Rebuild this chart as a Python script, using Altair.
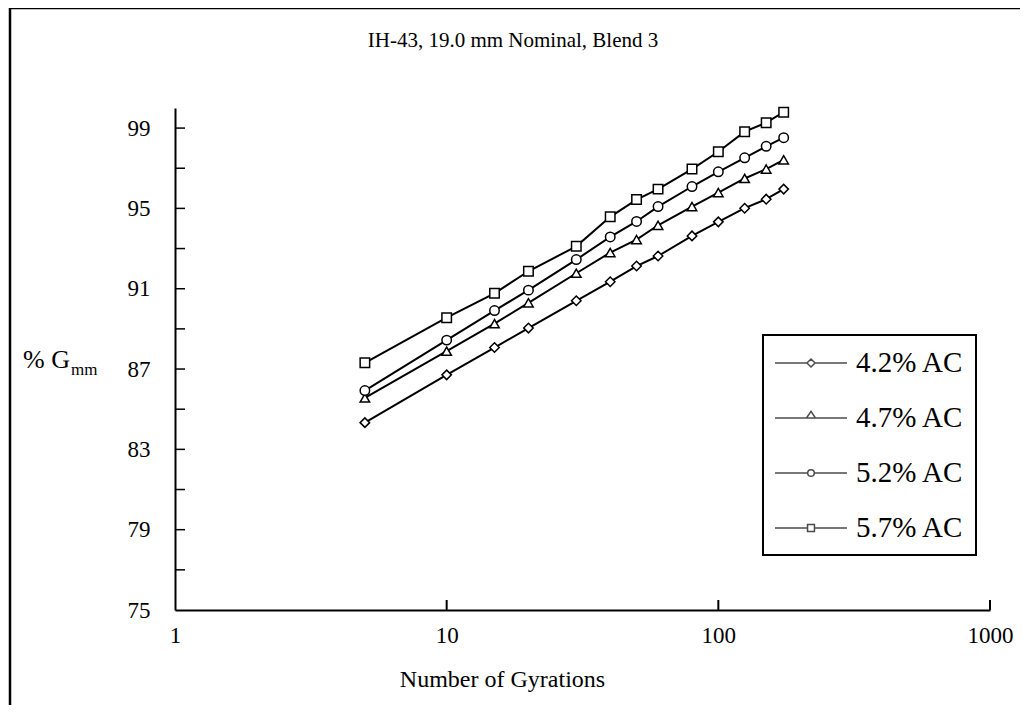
import altair as alt
import pandas as pd

gyrations = [5, 10, 15, 20, 30, 40, 50, 60, 80, 100, 125, 150, 174]
ac42 = [84.33, 86.71, 88.07, 89.04, 90.40, 91.35, 92.13, 92.63, 93.63, 94.33, 95.01, 95.46, 95.96]
ac47 = [85.56, 87.89, 89.26, 90.30, 91.77, 92.80, 93.45, 94.16, 95.09, 95.79, 96.49, 96.96, 97.42]
ac52 = [85.93, 88.44, 89.91, 90.93, 92.45, 93.58, 94.35, 95.09, 96.09, 96.82, 97.52, 98.09, 98.52]
ac57 = [87.31, 89.56, 90.77, 91.87, 93.11, 94.58, 95.44, 95.96, 96.96, 97.82, 98.82, 99.27, 99.79]
series_names = ["4.2% AC", "4.7% AC", "5.2% AC", "5.7% AC"]
series_values = [ac42, ac47, ac52, ac57]
shapes = ["diamond", "triangle-up", "circle", "square"]
x_tick_labels = [1, 10, 100, 1000]
x_tick_marks = [10, 100, 1000]
y_tick_labels = [75, 79, 83, 87, 91, 95, 99]
y_tick_marks = [77, 79, 81, 83, 85, 87, 89, 91, 93, 95, 97, 99]

# legend glyphs: a line with a small open marker in the middle (unit = 15 px)
legend_paths = [
    "M-2.4,0L-0.27,0M0.27,0L2.4,0M0,-0.27L0.27,0L0,0.27L-0.27,0Z",
    "M-2.4,0L2.4,0M-0.3,0L0,-0.45L0.3,0Z",
    "M-2.4,0L-0.22,0M0.22,0L2.4,0M0.22,0A0.22,0.22 0 1,1 -0.22,0A0.22,0.22 0 1,1 0.22,0Z",
    "M-2.4,0L-0.23,0M0.23,0L2.4,0M-0.23,-0.23L0.23,-0.23L0.23,0.23L-0.23,0.23Z",
]

rows = []
for name, vals in zip(series_names, series_values):
    for g, v in zip(gyrations, vals):
        rows.append({"g": g, "v": v, "series": name})
df = pd.DataFrame(rows)

W, H = 815, 502
FONT = "Liberation Serif, Times New Roman, DejaVu Serif, serif"
xscale = alt.Scale(type="log", domain=[1, 1000])
yscale = alt.Scale(domain=[75, 100], zero=False, nice=False)

x_axis = alt.Axis(values=x_tick_labels, format="d", ticks=False, tickSize=0,
                  grid=False, labelFont=FONT, labelFontSize=23, labelColor="black",
                  labelPadding=14, domainColor="black", domainWidth=2,
                  title="Number of Gyrations", titleFont=FONT, titleFontSize=24,
                  titleFontWeight="normal", titleColor="black", titleX=327,
                  titleY=76, titleBaseline="alphabetic", labelFlush=False)
y_axis = alt.Axis(values=y_tick_labels, ticks=False, tickSize=0, grid=False,
                  labelFont=FONT, labelFontSize=23, labelColor="black",
                  labelPadding=25, domainColor="black", domainWidth=2, title=None)

base = alt.Chart(df)

lines = base.mark_line(color="black", strokeWidth=2).encode(
    x=alt.X("g:Q", scale=xscale, axis=x_axis),
    y=alt.Y("v:Q", scale=yscale, axis=y_axis),
    detail="series:N",
    order="g:Q",
)

points = base.mark_point(filled=True, fill="white", stroke="black", strokeWidth=1.5,
                         size=90, opacity=1).encode(
    x=alt.X("g:Q", scale=xscale, axis=x_axis),
    y=alt.Y("v:Q", scale=yscale, axis=y_axis),
    shape=alt.Shape("series:N", scale=alt.Scale(domain=series_names, range=shapes),
                    legend=None),
)

legend_layer = base.transform_filter("datum.g < 0").mark_point(
    filled=False, color="black", strokeWidth=1.5).encode(
    x=alt.X("g:Q", scale=xscale, axis=x_axis),
    y=alt.Y("v:Q", scale=yscale, axis=y_axis),
    shape=alt.Shape("series:N", scale=alt.Scale(domain=series_names, range=legend_paths),
                    legend=alt.Legend(orient="none", legendX=588, legendY=227, title=None,
                                      strokeColor="black", padding=12,
                                      labelFont=FONT, labelFontSize=29, labelColor="black",
                                      symbolSize=900, symbolStrokeWidth=1.5,
                                      symbolStrokeColor="black", rowPadding=24,
                                      symbolOffset=20, labelOffset=29)),
)

xt = alt.Chart(pd.DataFrame({"g": x_tick_marks})).mark_rule(color="black", strokeWidth=2).encode(
    x=alt.X("g:Q", scale=xscale, axis=x_axis),
    y=alt.value(H), y2=alt.value(H - 10),
)
yt = alt.Chart(pd.DataFrame({"v": y_tick_marks})).mark_rule(color="black", strokeWidth=1.5).encode(
    y=alt.Y("v:Q", scale=yscale, axis=y_axis),
    x=alt.value(0), x2=alt.value(10),
)

one = pd.DataFrame({"a": [0]})
frame_left = alt.Chart(one).mark_rule(color="black", strokeWidth=2.5).encode(
    x=alt.value(-165), y=alt.value(-100), y2=alt.value(H + 120))
frame_top = alt.Chart(one).mark_rule(color="black", strokeWidth=2.5).encode(
    x=alt.value(-165), x2=alt.value(860), y=alt.value(-100))

title_txt = alt.Chart(pd.DataFrame({"t": ["IH-43, 19.0 mm Nominal, Blend 3"]})).mark_text(
    font=FONT, fontSize=21, color="black", align="center", baseline="alphabetic").encode(
    text="t:N", x=alt.value(338), y=alt.value(-61))
ytitle_a = alt.Chart(pd.DataFrame({"t": ["% G"]})).mark_text(
    font=FONT, fontSize=26, color="black", align="left", baseline="alphabetic").encode(
    text="t:N", x=alt.value(-152), y=alt.value(260))
ytitle_b = alt.Chart(pd.DataFrame({"t": ["mm"]})).mark_text(
    font=FONT, fontSize=17, color="black", align="left", baseline="alphabetic").encode(
    text="t:N", x=alt.value(-104), y=alt.value(267))

chart = alt.layer(
    frame_left, frame_top, lines, points, legend_layer, xt, yt, title_txt, ytitle_a, ytitle_b
).resolve_scale(shape="independent").properties(
    width=W, height=H,
    background="white",
    autosize=alt.AutoSizeParams(type="none"),
    padding={"left": 167, "top": 100, "right": 30, "bottom": 95},
).configure_view(stroke="transparent", strokeWidth=0).configure_axis(
    labelFont=FONT, titleFont=FONT
).configure_text(font=FONT).configure_legend(labelFont=FONT, strokeWidth=2)

chart.save("out.html", embed_options={"renderer": "svg", "actions": False})
